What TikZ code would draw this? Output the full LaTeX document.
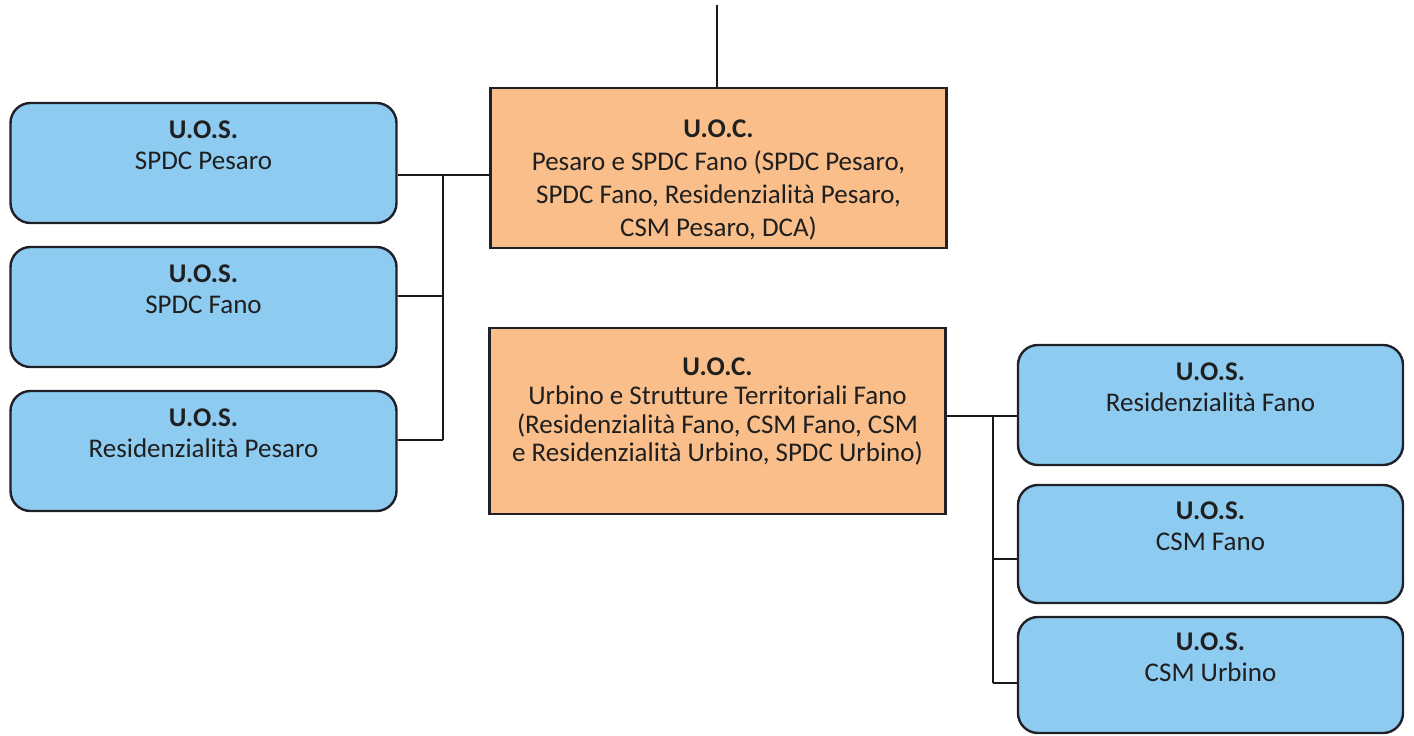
\documentclass[tikz,border=0pt]{standalone}
\usepackage{fontspec}
\setmainfont{Carlito}
\usepackage{tikz}
\usetikzlibrary{calc}

\definecolor{uosblue}{RGB}{142,203,240}
\definecolor{uocorange}{RGB}{249,190,138}
\definecolor{boxline}{RGB}{32,32,40}
\newcommand{\padtop}[1]{\rule{0pt}{#1}}
\newcommand{\padbot}[1]{\rule[-#1]{0pt}{#1}}

\begin{document}
\begin{tikzpicture}[x=0.5pt,y=-0.5pt,
  uos/.style={draw=boxline, line width=1.2pt, fill=uosblue, rounded corners=10pt,
    minimum width=193pt, minimum height=60pt, align=center, text=black!88,
    font=\fontsize{13.5}{15.2}\selectfont},
  uoc/.style={draw=boxline, line width=1.2pt, fill=uocorange, inner ysep=1pt,
    minimum width=228pt, align=center, text=black!88},
  link/.style={line width=1pt, draw=black!90}]
\useasboundingbox (0,0) rectangle (1414,735);

% U.O.C.
\node[uoc, minimum height=80pt, font=\fontsize{13.5}{16.4}\selectfont] (uoc1) at (718.5,168)
  {\padtop{21pt}\textbf{U.O.C.}\\Pesaro e SPDC Fano (SPDC Pesaro,\\SPDC Fano, Residenzialità Pesaro,\\CSM Pesaro, DCA)};
\node[uoc, minimum height=93pt, font=\fontsize{13.5}{14.3}\selectfont] (uoc2) at (717.5,421)
  {\textbf{U.O.C.}\\Urbino e Strutture Territoriali Fano\\(Residenzialità Fano, CSM Fano, CSM\\e Residenzialità Urbino, SPDC Urbino)\padbot{11pt}};

% U.O.S. a sinistra
\node[uos] (sp) at (203.5,163) {\textbf{U.O.S.}\\SPDC Pesaro\padbot{18pt}};
\node[uos] (sf) at (203.5,307) {\textbf{U.O.S.}\\SPDC Fano\padbot{18pt}};
\node[uos] (rp) at (203.5,451) {\textbf{U.O.S.}\\Residenzialità Pesaro\padbot{18pt}};

% U.O.S. a destra
\node[uos, minimum width=192.5pt] (rf) at (1210.5,405) {\textbf{U.O.S.}\\Residenzialità Fano\padbot{18pt}};
\node[uos, minimum width=192.5pt, minimum height=59pt] (cf) at (1210.5,544) {\textbf{U.O.S.}\\CSM Fano\padbot{18pt}};
\node[uos, minimum width=192.5pt, minimum height=58pt] (cu) at (1210.5,675) {\textbf{U.O.S.}\\CSM Urbino\padbot{18pt}};

% linee
\coordinate (top) at (717,5);
\draw[link] (top) -- (top |- uoc1.north);

\coordinate (lbus) at (443,0);
\coordinate (l1) at ([yshift=-6pt]sp.east);
\coordinate (l3) at ([yshift=5.5pt]rp.east);
\draw[link] (l1) -- (l1 -| uoc1.west);
\draw[link] (lbus |- l1) -- (lbus |- l3);
\foreach \n in {sf,rp}
  \draw[link] ([yshift=5.5pt]\n.east) -- ([yshift=5.5pt]\n.east -| lbus);

\coordinate (rbus) at (993,0);
\coordinate (r1) at ([yshift=2.5pt]uoc2.east);
\coordinate (r3) at ([yshift=-4pt]cu.west);
\draw[link] (r1) -- (r1 -| rf.west);
\draw[link] (rbus |- r1) -- (rbus |- r3);
\draw[link] ([yshift=-7.5pt]cf.west) -- ([yshift=-7.5pt]cf.west -| rbus);
\draw[link] (r3) -- (r3 -| rbus);
\end{tikzpicture}
\end{document}
